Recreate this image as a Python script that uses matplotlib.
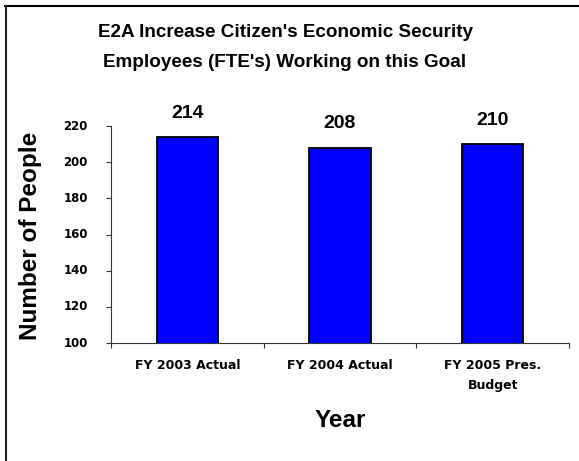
import numpy as np
import matplotlib.pyplot as plt
from matplotlib.lines import Line2D
from matplotlib.transforms import blended_transform_factory

plt.rcParams['font.family'] = ['Liberation Sans', 'DejaVu Sans']

categories = ['FY 2003 Actual', 'FY 2004 Actual', 'FY 2005 Pres.\nBudget']
values = [214, 208, 210]
yticks = [100, 120, 140, 160, 180, 200, 220]

W, H = 579, 461
fig = plt.figure(figsize=(W / 100, H / 100), dpi=100)

# axes box in pixel terms: x 111..569, y 126..343
ax = fig.add_axes([111 / W, 1 - 343 / H, (569 - 111) / W, (343 - 126) / H])

x = np.arange(len(values))
ax.bar(x, values, width=0.4, color='#0000ff', edgecolor='black', linewidth=1.3, zorder=3)
for xi, v in zip(x, values):
    ax.annotate(str(v), (xi, v), xytext=(0, 11), textcoords='offset points',
                ha='center', va='bottom', fontsize=14, fontweight='bold')

ax.set_xlim(-0.5, len(values) - 0.5)
ax.set_ylim(100, 220)
ax.set_yticks(yticks)
ax.set_yticklabels([])
ax.tick_params(axis='y', length=3.6, width=0.8, color='#333333')

# y tick labels, right-aligned a fixed distance left of the axis
ylab_tr = blended_transform_factory(fig.transFigure, ax.transData)
for t in yticks:
    ax.text(88 / W, t, str(t), transform=ylab_tr, ha='right', va='center',
            fontsize=8.5, fontweight='bold', family='DejaVu Sans', clip_on=False)

# category labels sit between tick marks at the boundaries
ax.set_xticks(np.arange(len(values) + 1) - 0.5)
ax.set_xticklabels([])
ax.tick_params(axis='x', length=3.6, width=0.8, color='#333333')
for xi, lab in zip(x, categories):
    ax.text(xi, -0.072, lab, transform=ax.get_xaxis_transform(), ha='center', va='top',
            fontsize=9, fontweight='bold', family='DejaVu Sans', linespacing=1.7)

for s in ['top', 'right']:
    ax.spines[s].set_visible(False)
for s in ['left', 'bottom']:
    ax.spines[s].set_color('#333333')
    ax.spines[s].set_linewidth(0.8)

fig.text(31 / W, 1 - 236 / H, 'Number of People', rotation=90, ha='center', va='center',
         fontsize=17.5, fontweight='bold')
fig.text(340 / W, 1 - 420 / H, 'Year', ha='center', va='center', fontsize=17.5, fontweight='bold')
fig.text(285 / W, 1 - 47.5 / H, "E2A Increase Citizen's Economic Security\nEmployees (FTE's) Working on this Goal",
         ha='center', va='center', fontsize=13.6, fontweight='bold', linespacing=1.95)

# frame lines along the top and left edge
fig.add_artist(Line2D([5 / W, 1], [1 - 6 / H, 1 - 6 / H], color='black', linewidth=1.5,
                      transform=fig.transFigure))
fig.add_artist(Line2D([6 / W, 6 / W], [0, 1 - 6 / H], color='#222222', linewidth=1.5,
                      transform=fig.transFigure))

fig.savefig('out.png', dpi=100)
